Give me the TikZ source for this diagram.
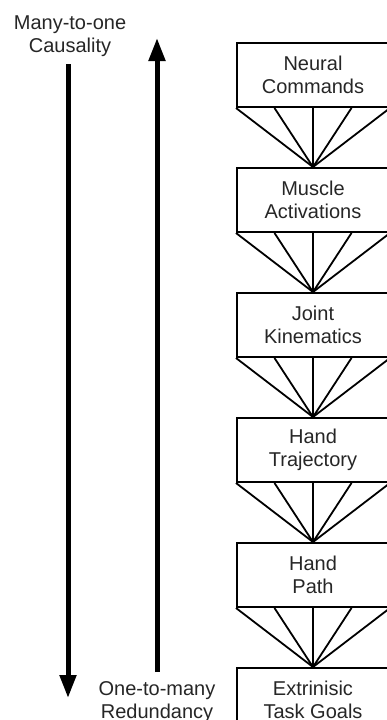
\documentclass[tikz,border=0pt]{standalone}
\usepackage{fontspec}
\setmainfont{Liberation Sans}
\usetikzlibrary{arrows.meta,calc,positioning}
\tikzset{
    >={Triangle[width=16pt,length=23pt]},
    stufe/.style={
           rectangle,
           draw=black, line width=2pt,
           minimum width=152pt,
           minimum height=64pt,
           inner sep=0pt,
           align=center,
           text=black!85},
    facher/.style={
           line width=1.8pt},
    pil/.style={
           ->,
           line width=5pt},
    etikett/.style={
           align=center,
           inner sep=0pt,
           text=black!85}
}

\begin{document}
\begin{tikzpicture}[x=1pt,y=-1pt]
          \def \luecke {59pt}
          \fontsize{20pt}{23.5pt}\selectfont
          \useasboundingbox (0,0) rectangle (386,720);
          \node[stufe](neural) at (313,75) {Neural\\Commands};
          \node[stufe, below=\luecke of neural](muscle) {Muscle\\Activations};
          \node[stufe, below=\luecke of muscle](joint) {Joint\\Kinematics};
          \node[stufe, below=\luecke of joint](trajectory) {Hand\\Trajectory};
          \node[stufe, below=\luecke of trajectory](handpath) {Hand\\Path};
          \node[stufe, below=\luecke of handpath](goals) {Extrinisic\\Task Goals};
          \foreach \oben/\unten in {neural/muscle, muscle/joint, joint/trajectory, trajectory/handpath, handpath/goals}
            \foreach \f in {0,0.25,0.5,0.75,1}
              \draw[facher] ($(\oben.south west)!\f!(\oben.south east)$) -- (\unten.north);
          \coordinate (kausal oben) at (68,64);
          \coordinate (kausal unten) at (68,698);
          \coordinate (redundanz unten) at (157,672);
          \coordinate (redundanz oben) at (157,38);
          \draw[pil] (kausal oben) -- (kausal unten);
          \draw[pil] (redundanz unten) -- (redundanz oben);
          \node[etikett](kausal) at (70,36) {Many-to-one\\Causality};
          \node[etikett](redundanz) at (157,702) {One-to-many\\Redundancy};
\end{tikzpicture}
\end{document}
